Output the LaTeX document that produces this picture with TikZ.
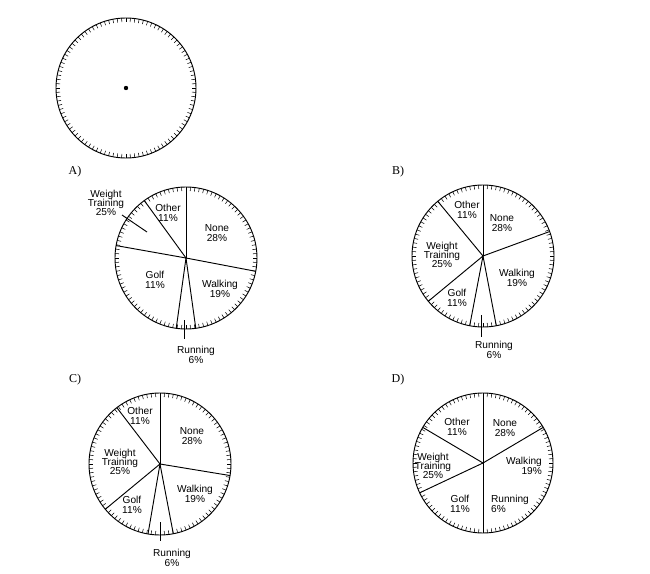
\documentclass[tikz,border=0pt]{standalone}
\usepackage{fontspec}
\setmainfont{Liberation Serif}
\newfontfamily\labelfont{Liberation Sans}
\usetikzlibrary{calc,positioning}

\begin{document}
\begin{tikzpicture}[x=0.75pt,y=-0.75pt,
  piecirc/.style={draw,line width=0.7pt},
  pieline/.style={line width=0.7pt},
  pielabel/.style={font=\labelfont\fontsize{7.6}{8}\selectfont,inner sep=0pt,align=center},
  choice/.style={font=\fontsize{9}{10}\selectfont,inner sep=0pt},
 ]
\useasboundingbox (0,0) rectangle (650,574);

% dial: centre name, radius
\newcommand\pietick[2]{%
  \draw[piecirc] (#1) circle (#2);
  \foreach \t in {0,...,99}
    \draw[line width=0.4pt] ([shift={(\t*3.6:#2)}]#1) -- ([shift={(\t*3.6:#2-4)}]#1);
}
\newcommand\pieslice[3]{%
  \draw[pieline] (#1) -- ([shift={(-90+3.6*#3:#2)}]#1);
}

\coordinate (c0) at (126,88);
\coordinate (cA) at (186,258);
\coordinate (cB) at (483,256);
\coordinate (cC) at (160,464);
\coordinate (cD) at (483,463);

% blank dial
\pietick{c0}{70}
\fill (c0) circle (2.2);

% choice A
\node[choice] (lA) at (75,172) {A)};
\pietick{cA}{71}
\foreach \p in {0,28,47.8,52.2,77.8,90} {\pieslice{cA}{71}{\p}}
\node[pielabel] (wA) at (106,203) {Weight\\[-1pt]Training\\[-1pt]25\%};
\coordinate (pA1) at (122,215);
\coordinate (pA2) at (147,232);
\draw[pieline] (pA1) -- (pA2);
\node[pielabel] (oA) at (168,213) {Other\\[-1pt]11\%};
\node[pielabel] (nA) at (217,233) {None\\[-1pt]28\%};
\node[pielabel] (gA) at (155,280) {Golf\\[-1pt]11\%};
\node[pielabel] (kA) at (220,289) {Walking\\[-1pt]19\%};
\node[pielabel] (rA) at (196,355) {Running\\[-1pt]6\%};
\coordinate (tA1) at (184,320);
\coordinate (tA2) at (184,339);
\draw[pieline] (tA1) -- (tA2);

% choice B
\node[choice] (lB) at (398,172) {B)};
\pietick{cB}{71}
\foreach \p in {0,19.4,47,53,64,89} {\pieslice{cB}{71}{\p}}
\node[pielabel] (oB) at (467,210) {Other\\[-1pt]11\%};
\node[pielabel] (nB) at (502,223) {None\\[-1pt]28\%};
\node[pielabel] (wB) at (442,255) {Weight\\[-1pt]Training\\[-1pt]25\%};
\node[pielabel] (kB) at (517,278) {Walking\\[-1pt]19\%};
\node[pielabel] (gB) at (457,298) {Golf\\[-1pt]11\%};
\node[pielabel] (rB) at (494,350) {Running\\[-1pt]6\%};
\coordinate (tB1) at (481,315);
\coordinate (tB2) at (481,337);
\draw[pieline] (tB1) -- (tB2);

% choice C
\node[choice] (lC) at (75,380) {C)};
\pietick{cC}{71}
\foreach \p in {0,27.6,47,52.7,64,89.6} {\pieslice{cC}{71}{\p}}
\node[pielabel] (oC) at (140,416) {Other\\[-1pt]11\%};
\node[pielabel] (nC) at (192,436) {None\\[-1pt]28\%};
\node[pielabel] (wC) at (120,462) {Weight\\[-1pt]Training\\[-1pt]25\%};
\node[pielabel] (kC) at (195,494) {Walking\\[-1pt]19\%};
\node[pielabel] (gC) at (132,505) {Golf\\[-1pt]11\%};
\node[pielabel] (rC) at (172,558) {Running\\[-1pt]6\%};
\coordinate (tC1) at (160,522);
\coordinate (tC2) at (160,541);
\draw[pieline] (tC1) -- (tC2);

% choice D
\node[choice] (lD) at (398,380) {D)};
\pietick{cD}{70}
\foreach \p in {0,16.5,50,68,83.5} {\pieslice{cD}{70}{\p}}
\node[pielabel] (oD) at (457,427) {Other\\[-1pt]11\%};
\node[pielabel] (nD) at (505,428) {None\\[-1pt]28\%};
\node[pielabel] (wD) at (433,466) {Weight\\[-1pt]Training\\[-1pt]25\%};
\node[pielabel, align=right] (kD) at (524,466) {Walking\\[-1pt]19\%};
\node[pielabel] (gD) at (460,504) {Golf\\[-1pt]11\%};
\node[pielabel, align=left] (rD) at (510,504) {Running\\[-1pt]6\%};

\end{tikzpicture}
\end{document}
